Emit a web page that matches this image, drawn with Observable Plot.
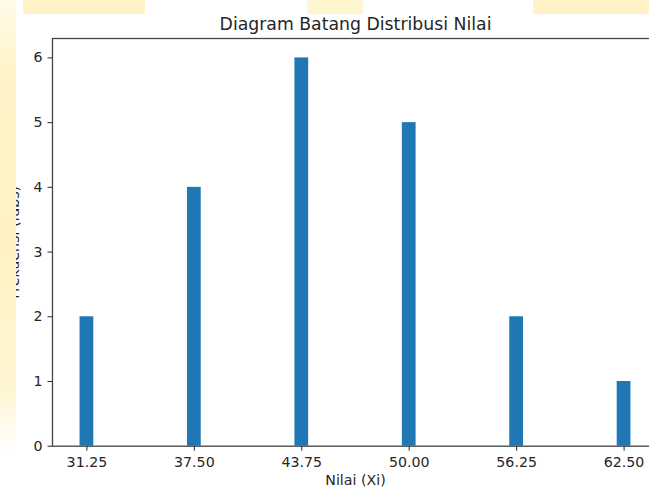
<!DOCTYPE html>
<html>
<head>
<meta charset="utf-8">
<script src="https://cdn.jsdelivr.net/npm/d3@7"></script>
<script src="https://cdn.jsdelivr.net/npm/@observablehq/plot@0.6"></script>
<style>
  html, body { margin: 0; padding: 0; }
  body {
    width: 649px; height: 490px; overflow: hidden; position: relative;
    font-family: "DejaVu Sans", sans-serif;
    background-color: #ffffff;
    background-image:
      linear-gradient(#fff3c6, #fff3c6),
      linear-gradient(#fff5cf, #fff5cf),
      linear-gradient(#fff3c6, #fff3c6),
      linear-gradient(to bottom, #fffbe8 0%, #fff4c8 15%, #fff2c2 50%, #fff6d4 80%, #ffffff 92%);
    background-size: 122px 14px, 56px 14px, 116px 14px, 16px 490px;
    background-position: 23px 0, 307px 0, 533px 0, 0 0;
    background-repeat: no-repeat;
  }
  #fig {
    position: absolute; left: 16px; top: 13.5px; width: 640px; height: 480px;
    background: #ffffff; overflow: hidden;
  }
  #fig svg { position: absolute; left: -16px; top: -13.5px; max-width: none !important; width: 658px; height: 490px; }
</style>
</head>
<body>
<div id="fig"></div>
<script>
const title = "Diagram Batang Distribusi Nilai";
const xLabel = "Nilai (Xi)";
const yLabel = "Frekuensi (fabs)";
const nilai = [31.25, 37.5, 43.75, 50.0, 56.25, 62.5];
const frekuensi = [2, 4, 6, 5, 2, 1];
const xTickLabels = ["31.25", "37.50", "43.75", "50.00", "56.25", "62.50"];
const yTicks = [0, 1, 2, 3, 4, 5, 6];

const barWidth = 0.8;
const data = nilai.map((x, i) => ({x, f: frekuensi[i]}));
const lo = d3.min(nilai) - barWidth / 2, hi = d3.max(nilai) + barWidth / 2;
const pad = (hi - lo) * 0.05;
const yMax = d3.max(frekuensi) * 1.05;

const ink = "#262626";
const fs = 14.2;
const chart = Plot.plot({
  width: 658,
  height: 490,
  marginLeft: 52,
  marginRight: 0,
  marginTop: 38,
  marginBottom: 44.3,
  style: {fontFamily: "DejaVu Sans", fontSize: fs + "px", color: ink, background: "transparent", overflow: "visible"},
  x: {domain: [lo - pad, hi + pad]},
  y: {domain: [0, yMax]},
  marks: [
    Plot.rectY(data, {x1: d => d.x - barWidth / 2, x2: d => d.x + barWidth / 2, y: "f", fill: "#1f77b4"}),
    Plot.axisX({ticks: nilai, tickFormat: d => xTickLabels[nilai.indexOf(d)], tickSize: 5, tickPadding: 6, label: null, fontSize: fs}),
    Plot.axisY({ticks: yTicks, tickFormat: d => String(d), tickSize: 4.5, tickPadding: 5.5, label: null, fontSize: fs}),
    Plot.frame({stroke: "#444", strokeWidth: 1.3}),
    Plot.text([title], {frameAnchor: "top", lineAnchor: "bottom", dy: -8.3, fontSize: 17.3, fill: ink}),
    Plot.text([xLabel], {frameAnchor: "bottom", lineAnchor: "bottom", dy: 38.6, fontSize: fs, fill: ink}),
    Plot.text([yLabel], {frameAnchor: "left", textAnchor: "middle", lineAnchor: "bottom", rotate: -90, dx: -33.5, fontSize: fs, fill: ink})
  ]
});
document.getElementById("fig").appendChild(chart);
</script>
</body>
</html>
